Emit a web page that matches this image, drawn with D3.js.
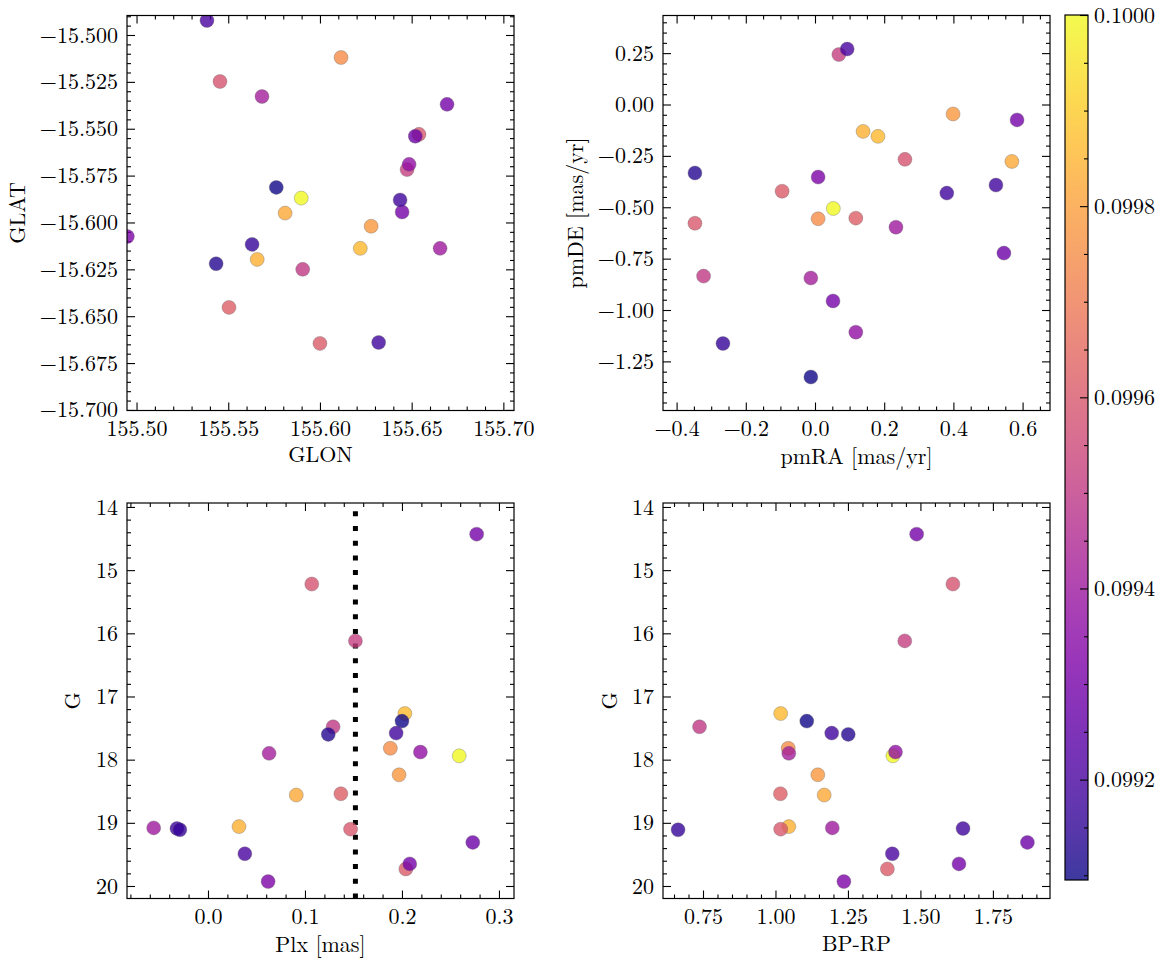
<!DOCTYPE html>
<html><head><meta charset="utf-8">
<script src="https://cdn.jsdelivr.net/npm/d3@7"></script>
<style>body{margin:0;background:#fff}</style>
</head><body>
<svg id="chart" width="1166" height="965"></svg>
<script>
// ---------------- data (one entry per star) ----------------
const cval = [0.10000,0.09986,0.09984,0.09982,0.09978,0.09975,0.09958,0.09962,0.09960,0.09961,
              0.09952,0.09950,0.09942,0.09937,0.09940,0.09930,0.09928,0.09930,0.09932,
              0.09910,0.09913,0.09918,0.09918,0.09916,0.09920];
const glon = [155.5898,155.6220,155.5658,155.5810,155.6279,155.6115,155.5455,155.5504,155.6540,155.6000,
              155.6475,155.5906,155.5684,155.6486,155.6655,155.6693,155.6520,155.6448,155.4950,
              155.5762,155.5434,155.6437,155.6320,155.5630,155.5384];
const glat = [-15.5870,-15.6138,-15.6197,-15.5950,-15.6020,-15.5120,-15.5248,-15.6453,-15.5530,-15.6645,
              -15.5718,-15.6250,-15.5328,-15.5690,-15.6138,-15.5370,-15.5540,-15.5944,-15.6075,
              -15.5813,-15.6220,-15.5880,-15.6640,-15.6117,-15.4923];
const pmra = [0.053,0.182,0.139,0.569,0.399,0.009,0.260,0.118,-0.347,-0.095,
              0.069,-0.322,-0.012,0.118,0.234,0.584,0.546,0.052,0.009,
              -0.012,-0.347,0.381,0.523,-0.266,0.093];
const pmde = [-0.506,-0.155,-0.131,-0.277,-0.046,-0.556,-0.267,-0.553,-0.578,-0.422,
              0.243,-0.835,-0.844,-1.108,-0.597,-0.075,-0.723,-0.956,-0.353,
              -1.326,-0.333,-0.431,-0.392,-1.163,0.270];
const plx  = [0.259,0.203,0.032,0.091,0.197,0.188,0.107,0.137,0.147,0.204,
              0.152,0.129,0.063,0.219,-0.056,0.277,0.273,0.208,0.062,
              0.200,0.124,0.194,-0.032,-0.029,0.038];
const gmag = [17.94,17.27,19.06,18.56,18.24,17.82,15.22,18.54,19.10,19.73,
              16.12,17.48,17.90,17.88,19.08,14.43,19.31,19.65,19.93,
              17.39,17.60,17.58,19.09,19.11,19.49];
const bprp = [1.405,1.018,1.046,1.168,1.146,1.044,1.612,1.017,1.018,1.386,
              1.446,0.738,1.046,1.414,1.196,1.487,1.869,1.633,1.236,
              1.108,1.251,1.194,1.647,0.664,1.403];
const plxCut = 0.152;

// tick labels
const glonTicks = [155.50,155.55,155.60,155.65,155.70];
const glatTicks = [-15.700,-15.675,-15.650,-15.625,-15.600,-15.575,-15.550,-15.525,-15.500];
const pmraTicks = [-0.4,-0.2,0.0,0.2,0.4,0.6];
const pmdeTicks = [-1.25,-1.00,-0.75,-0.50,-0.25,0.00,0.25];
const plxTicks  = [0.0,0.1,0.2,0.3];
const gTicks    = [14,15,16,17,18,19,20];
const bprpTicks = [0.75,1.00,1.25,1.50,1.75];
const cbTicks   = [0.0992,0.0994,0.0996,0.0998,0.1000];
const cRange    = [0.099095,0.1000];

// ---------------- drawing ----------------
const svg = d3.select("#chart");
const FS = 22;
const FF = "'Latin Modern Roman','CMU Serif','Liberation Serif',serif";
const color = d3.scaleSequential(d3.interpolatePlasma).domain(cRange);

function minorVals(dom, step, majors){
  const lo = Math.min(...dom), hi = Math.max(...dom);
  const out = [];
  for (let i = Math.ceil(lo/step - 1e-9); i <= Math.floor(hi/step + 1e-9); i++){
    const v = i*step;
    if (!majors.some(m => Math.abs(m - v) < step*0.01)) out.push(v);
  }
  return out;
}
const fontStyle = sel => sel.style("font-family", FF).style("font-size", FS + "px").style("fill", "#000");

let clipId = 0;
const styleAxis = sel => {
  sel.select(".domain").remove();
  sel.selectAll("line").attr("stroke","#000").attr("stroke-width",1.1);
  sel.selectAll("text").call(fontStyle);
};
function panel(o){
  const g = svg.append("g");
  const x = d3.scaleLinear().domain(o.xd).range([o.x0, o.x1]);
  const y = d3.scaleLinear().domain(o.yd).range([o.y1, o.y0]);
  const xMin = minorVals(o.xd, o.xminor, o.xt), yMin = minorVals(o.yd, o.yminor, o.yt);

  const id = "clip" + (clipId++);
  g.append("clipPath").attr("id", id).append("rect")
    .attr("x", o.x0).attr("y", o.y0).attr("width", o.x1-o.x0).attr("height", o.y1-o.y0);

  // bottom
  g.append("g").attr("transform",`translate(0,${o.y1})`)
    .call(d3.axisBottom(x).tickValues(o.xt).tickSize(-8).tickPadding(10).tickFormat(o.xf)).call(styleAxis);
  g.append("g").attr("transform",`translate(0,${o.y1})`)
    .call(d3.axisBottom(x).tickValues(xMin).tickSize(-4).tickFormat("")).call(styleAxis);
  // top
  g.append("g").attr("transform",`translate(0,${o.y0})`)
    .call(d3.axisTop(x).tickValues(o.xt).tickSize(-8).tickFormat("")).call(styleAxis);
  g.append("g").attr("transform",`translate(0,${o.y0})`)
    .call(d3.axisTop(x).tickValues(xMin).tickSize(-4).tickFormat("")).call(styleAxis);
  // left
  g.append("g").attr("transform",`translate(${o.x0},0)`)
    .call(d3.axisLeft(y).tickValues(o.yt).tickSize(-8).tickPadding(9).tickFormat(o.yf)).call(styleAxis);
  g.append("g").attr("transform",`translate(${o.x0},0)`)
    .call(d3.axisLeft(y).tickValues(yMin).tickSize(-4).tickFormat("")).call(styleAxis);
  // right
  g.append("g").attr("transform",`translate(${o.x1},0)`)
    .call(d3.axisRight(y).tickValues(o.yt).tickSize(-8).tickFormat("")).call(styleAxis);
  g.append("g").attr("transform",`translate(${o.x1},0)`)
    .call(d3.axisRight(y).tickValues(yMin).tickSize(-4).tickFormat("")).call(styleAxis);

  if (o.vline !== undefined){
    g.append("line").attr("clip-path",`url(#${id})`)
      .attr("x1", x(o.vline)).attr("x2", x(o.vline))
      .attr("y1", o.y1).attr("y2", o.y0)
      .attr("stroke","#000").attr("stroke-width",5).attr("stroke-dasharray","5,9.7");
  }

  g.append("g").attr("clip-path",`url(#${id})`)
    .selectAll("circle").data(o.xs.map((v,i)=>i)).join("circle")
    .attr("cx", i => x(o.xs[i])).attr("cy", i => y(o.ys[i])).attr("r", 7)
    .attr("fill", i => color(cval[i])).attr("fill-opacity", 0.8)
    .attr("stroke", "#666").attr("stroke-opacity",0.7).attr("stroke-width", 0.5);

  g.append("rect").attr("x",o.x0).attr("y",o.y0).attr("width",o.x1-o.x0).attr("height",o.y1-o.y0)
    .attr("fill","none").attr("stroke","#000").attr("stroke-width",1.2);

  g.append("text").attr("x",(o.x0+o.x1)/2).attr("y",o.xlY).attr("text-anchor","middle")
    .call(fontStyle).text(o.xl);
  g.append("text").attr("transform",`translate(${o.ylX},${(o.y0+o.y1)/2}) rotate(-90)`)
    .attr("text-anchor","middle").call(fontStyle).text(o.yl);
}

const T = [15.5, 410.5], B = [503, 898.5], L = [127, 514], R = [663, 1050];

panel({x0:L[0],x1:L[1],y0:T[0],y1:T[1], xd:[155.4948,155.7058], yd:[-15.7003,-15.4896],
  xt:glonTicks, yt:glatTicks, xminor:0.01, yminor:0.005, xf:d3.format(".2f"), yf:d3.format(".3f"),
  xs:glon, ys:glat, xl:"GLON", yl:"GLAT", xlY:462, ylX:25});

panel({x0:R[0],x1:R[1],y0:T[0],y1:T[1], xd:[-0.4393,0.6792], yd:[-1.489,0.4331],
  xt:pmraTicks, yt:pmdeTicks, xminor:0.05, yminor:0.05, xf:d3.format(".1f"), yf:d3.format(".2f"),
  xs:pmra, ys:pmde, xl:"pmRA [mas/yr]", yl:"pmDE [mas/yr]", xlY:464, ylX:583});

panel({x0:L[0],x1:L[1],y0:B[0],y1:B[1], xd:[-0.0835,0.3155], yd:[20.198,13.937],
  xt:plxTicks, yt:gTicks, xminor:0.02, yminor:0.2, xf:d3.format(".1f"), yf:d3.format("d"),
  xs:plx, ys:gmag, xl:"Plx [mas]", yl:"G", xlY:952, ylX:80, vline:plxCut});

panel({x0:R[0],x1:R[1],y0:B[0],y1:B[1], xd:[0.612,1.947], yd:[20.198,13.937],
  xt:bprpTicks, yt:gTicks, xminor:0.05, yminor:0.2, xf:d3.format(".2f"), yf:d3.format("d"),
  xs:bprp, ys:gmag, xl:"BP-RP", yl:"G", xlY:951, ylX:617});

// ---------------- colorbar ----------------
const cb = {x:1065, w:23, y0:15, y1:880};
const defs = svg.append("defs");
const grad = defs.append("linearGradient").attr("id","cbgrad")
  .attr("x1","0").attr("y1","1").attr("x2","0").attr("y2","0");
d3.range(0, 1.0001, 0.05).forEach(t => grad.append("stop")
  .attr("offset", t).attr("stop-color", d3.interpolatePlasma(t)));
svg.append("rect").attr("x",cb.x).attr("y",cb.y0).attr("width",cb.w).attr("height",cb.y1-cb.y0)
  .attr("fill","url(#cbgrad)").attr("fill-opacity",0.8);
const cy = d3.scaleLinear().domain(cRange).range([cb.y1, cb.y0]);
const cbMin = minorVals(cRange, 0.00005, cbTicks);
svg.append("g").attr("transform",`translate(${cb.x+cb.w},0)`)
  .call(d3.axisRight(cy).tickValues(cbTicks).tickSize(-8).tickPadding(6).tickFormat(d3.format(".4f"))).call(styleAxis);
svg.append("g").attr("transform",`translate(${cb.x+cb.w},0)`)
  .call(d3.axisRight(cy).tickValues(cbMin).tickSize(-4).tickFormat("")).call(styleAxis);
svg.append("rect").attr("x",cb.x).attr("y",cb.y0).attr("width",cb.w).attr("height",cb.y1-cb.y0)
  .attr("fill","none").attr("stroke","#000").attr("stroke-width",1.2);
</script>
</body></html>
